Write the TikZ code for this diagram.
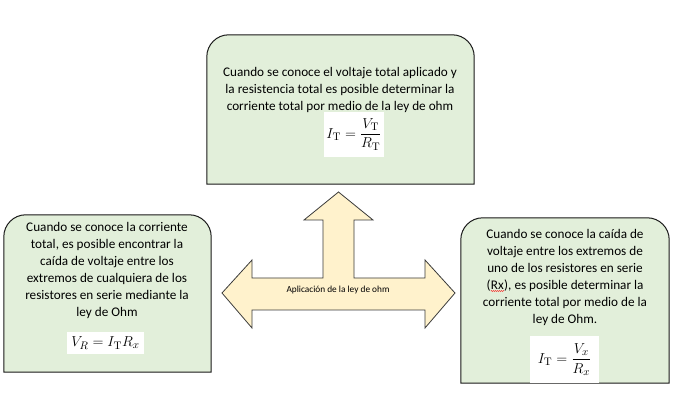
\documentclass[tikz,border=0pt]{standalone}
\usepackage[no-math]{fontspec}
\setmainfont{Carlito}
\usetikzlibrary{positioning,decorations.pathmorphing}

\definecolor{boxgreen}{HTML}{E2EFDA}
\definecolor{arrowcream}{HTML}{FFF2CC}
\definecolor{edgegray}{HTML}{3A3A3A}

\tikzset{
	boxarea/.style={inner sep=0pt, minimum width=#1},
	boxline/.style={draw=black!90, fill=boxgreen, line width=1pt},
	boxtext/.style={align=center, inner sep=0pt, font=\fontsize{13.2}{17}\selectfont},
	formula/.style={fill=white, inner sep=2pt, font=\fontsize{15}{17}\selectfont},
	arrowshape/.style={draw=edgegray, fill=arrowcream, line width=0.8pt, line join=miter},
}

% box with round top corners, square bottom corners
\newcommand\roundtop[1]{%
	\draw[boxline] (#1.south west) -- ([yshift=-22pt]#1.north west)
		arc[start angle=180, end angle=90, radius=22pt]
		-- ([xshift=-22pt]#1.north east)
		arc[start angle=90, end angle=0, radius=22pt]
		-- (#1.south east) -- cycle;}

% red wavy spell check mark
\newcommand\spell[1]{\tikz[baseline=(w.base)]{\node[inner sep=0pt] (w) {#1};
	\draw[red, line width=0.4pt, decorate, decoration={snake, amplitude=0.5pt, segment length=2pt}]
		([yshift=-1.5pt]w.base west) -- ([yshift=-1.5pt]w.base east);}}

\begin{document}
\begin{tikzpicture}[x=1pt, y=1pt]
	\useasboundingbox (0,0) rectangle (680,401);

	% boxes
	\node[boxarea=267pt, minimum height=149pt] (topbox) at (340.5,291.5) {};
	\node[boxarea=207pt, minimum height=157pt] (leftbox) at (107.5,107.5) {};
	\node[boxarea=208pt, minimum height=165pt] (rightbox) at (565,100.5) {};
	\roundtop{topbox}
	\roundtop{leftbox}
	\roundtop{rightbox}

	% texts
	\node[boxtext] (toptext) at (340,311.5) {Cuando se conoce el voltaje total aplicado y\\
		la resistencia total es posible determinar la\\
		corriente total por medio de la ley de ohm};
	\node[boxtext] (lefttext) at (107,130.5) {Cuando se conoce la corriente\\
		total, es posible encontrar la\\
		caída de voltaje entre los\\
		extremos de cualquiera de los\\
		resistores en serie mediante la\\
		ley de Ohm};
	\node[boxtext] (righttext) at (565,123.5) {Cuando se conoce la caída de\\
		voltaje entre los extremos de\\
		uno de los resistores en serie\\
		(\spell{Rx}), es posible determinar la\\
		corriente total por medio de la\\
		ley de Ohm.};

	% formulas
	\node[formula, minimum width=42pt, minimum height=45pt] (topeq) at (354,266.5)
		{$I_{\mathrm{T}} = \displaystyle\frac{V_{\mathrm{T}}}{R_{\mathrm{T}}}$};
	\node[formula, minimum width=77pt, minimum height=22pt] (lefteq) at (105.5,58)
		{$V_R = I_{\mathrm{T}} R_x$};
	\node[formula, minimum width=69pt, minimum height=47pt] (righteq) at (564.5,41.5)
		{$I_{\mathrm{T}} = \displaystyle\frac{V_x}{R_x}$};

	% three way arrow
	\draw[arrowshape] (222,108) -- (252,141) -- (252,123) -- (323,123) -- (323,181)
		-- (304,181) -- (338.5,209) -- (373,181) -- (354,181) -- (354,123)
		-- (425,123) -- (425,141) -- (455,108) -- (425,73) -- (425,91)
		-- (252,91) -- (252,73) -- cycle;
	\node[font=\fontsize{9.3}{11}\selectfont] (arrowlabel) at (338,111) {Aplicación de la ley de ohm};
\end{tikzpicture}
\end{document}
